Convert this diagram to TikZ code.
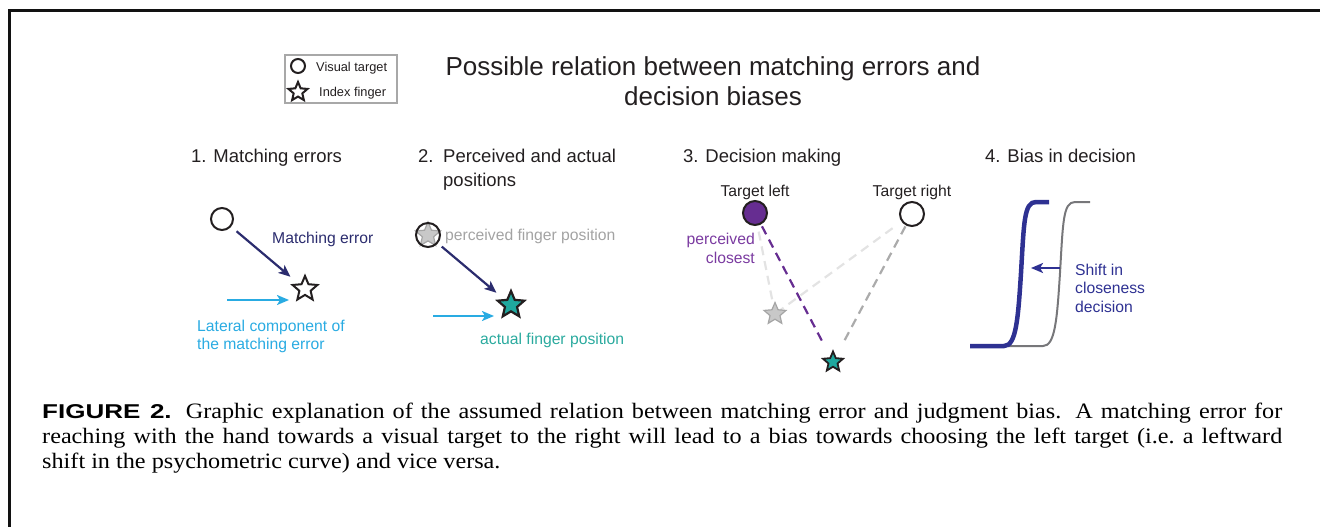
\documentclass[tikz,border=0pt]{standalone}
\usepackage{fontspec}
\setmainfont{Liberation Serif}
\newfontfamily\arialf{Liberation Sans}
\newfontfamily\capfont[FakeStretch=1.1]{Liberation Serif}
\newfontfamily\capbf[FakeStretch=1.3]{Liberation Sans}
\usetikzlibrary{shapes.geometric,arrows.meta}
\definecolor{navy}{HTML}{2B2C6E}
\definecolor{cyanl}{HTML}{29ABE2}
\definecolor{teal2}{HTML}{1FA89E}
\definecolor{tealtxt}{HTML}{2AAA9E}
\definecolor{purp}{HTML}{662D91}
\definecolor{purptxt}{HTML}{7A3AA0}
\definecolor{gtxt}{HTML}{A3A3A3}
\definecolor{lgray}{HTML}{E3E3E3}
\definecolor{mgray}{HTML}{ABABAB}
\definecolor{sgray}{HTML}{C8C8C8}
\definecolor{sgrayd}{HTML}{A5A5A5}
\definecolor{bblue}{HTML}{2E3192}
\definecolor{cgray}{HTML}{77777A}
\definecolor{txt}{HTML}{231F20}
\definecolor{legb}{HTML}{A8A8A8}
\pgfdeclarelayer{bg}
\pgfsetlayers{bg,main}
\begin{document}
\begin{tikzpicture}[x=1pt,y=-1pt,
  tgt/.style={circle, draw=txt, line width=2pt, minimum size=#1, inner sep=0pt},
  tgt/.default=22pt,
  fing/.style={star, star points=5, star point ratio=2.2, draw=txt, line width=2pt, inner sep=0pt, minimum size=#1},
  fing/.default=26pt,
  lbl/.style={font=\arialf\fontsize{15.7}{18.5}\selectfont, inner sep=0pt},
  head/.style={font=\arialf\fontsize{18.5}{25}\selectfont, text=txt, inner sep=0pt, anchor=base west},
  ttl/.style={font=\arialf\fontsize{26}{30}\selectfont, text=txt, inner sep=0pt, anchor=base},
  leg/.style={font=\arialf\fontsize{12.8}{14}\selectfont, text=txt, inner sep=0pt, anchor=base west},
  arr/.style={line width=2.2pt, -{Stealth[length=12pt, width=10pt, inset=3pt]}},
  dl/.style={line width=2.2pt, dash pattern=on 9pt off 6pt},
  captxt/.style={font=\capfont\fontsize{22}{25}\selectfont, inner sep=0pt, anchor=base west}
]
\useasboundingbox (0,0) rectangle (1320,527);
% frame
\draw[line width=3pt, black!93] (1320,10.5) -- (9.5,10.5) -- (9.5,527);

% legend
\node[draw=legb, line width=2pt, minimum width=112pt, minimum height=48pt, inner sep=0pt] (legbox) at (341,79) {};
\node[tgt=14pt, line width=2pt] (legc) at (298,66) {};
\node[fing=20pt, line width=2pt] (legs) at (298,92) {};
\node[leg] (legt1) at (316,71) {Visual target};
\node[leg] (legt2) at (319,96.5) {Index finger};

% title
\node[ttl] (title1) at (713,76) {Possible relation between matching errors and};
\node[ttl] (title2) at (713,106) {decision biases};

% headings
\node[head] (h1) at (191,162) {1. Matching errors};
\node[head] (h2) at (418,162) {2.};
\node[head] (h2a) at (443,162) {Perceived and actual};
\node[head] (h2b) at (443,186) {positions};
\node[head] (h3) at (683,162) {3. Decision making};
\node[head] (h4) at (985,162) {4. Bias in decision};

% panel 1
\node[tgt] (c1) at (222,219) {};
\node[fing] (s1) at (305,289) {};
\draw[arr, navy] (c1.center) -- (s1.center) [shorten <=19pt, shorten >=19pt];
\node[lbl, text=navy, anchor=base west] (me) at (272,243) {Matching error};
\coordinate (l1a) at (227,300);
\coordinate (l1b) at (289,300);
\draw[arr, cyanl] (l1a) -- (l1b);
\node[lbl, text=cyanl, anchor=base west] (lc1) at (197,331) {Lateral component of};
\node[lbl, text=cyanl, anchor=base west] (lc2) at (197,349.5) {the matching error};

% panel 2
\node[fing=26pt, fill=sgray, draw=sgrayd, line width=1.2pt] (gs2) at (428,235) {};
\node[tgt=24pt] (pc2) at (428,235) {};
\node[fing=28pt, fill=teal2, line width=2.2pt] (ts2) at (511,305) {};
\draw[arr, navy] (pc2.center) -- (ts2.center) [shorten <=18pt, shorten >=19pt];
\node[lbl, text=gtxt, anchor=base west] (pf) at (445,240) {perceived finger position};
\coordinate (l2a) at (433,316);
\coordinate (l2b) at (494,316);
\draw[arr, cyanl] (l2a) -- (l2b);
\node[lbl, text=tealtxt, anchor=base west] (af) at (480,344) {actual finger position};

% panel 3
\node[tgt=24pt, fill=purp] (tl) at (755,213) {};
\node[tgt=24pt, fill=white] (tr) at (912,214) {};
\node[fing=23pt, fill=sgray, draw=sgrayd, line width=1.2pt] (gs3) at (775,314) {};
\node[fing=21pt, fill=teal2, line width=1.8pt] (ts3) at (833,362) {};
\node[lbl, text=txt, anchor=base] (tlt) at (755,196) {Target left};
\node[lbl, text=txt, anchor=base] (trt) at (912,196) {Target right};
\node[lbl, text=purptxt, anchor=base east] (pc) at (755,244) {perceived};
\node[lbl, text=purptxt, anchor=base east] (cl) at (755,263) {closest};
\begin{pgfonlayer}{bg}
\draw[dl, lgray] (tl.center) -- (gs3.center) [shorten <=19pt, shorten >=11pt];
\draw[dl, lgray] (tr.center) -- (gs3.center) [shorten <=24pt, shorten >=7pt];
\draw[dl, mgray] (tr.center) -- (ts3.center) [shorten <=14pt, shorten >=21pt];
\draw[dl, purp] (tl.center) -- (ts3.center) [shorten <=15pt, shorten >=21pt];
\end{pgfonlayer}

% panel 4
\draw[cgray, line width=2pt] (1008,346) -- (1043,346) .. controls (1055,346) and (1057,320) .. (1060,273) .. controls (1063,222) and (1063,202) .. (1075,202) -- (1090,202);
\draw[bblue, line width=4.5pt] (970,346) -- (1004,346) .. controls (1016,346) and (1018,320) .. (1021,273) .. controls (1024,222) and (1024,202) .. (1036,202) -- (1049,202);
\coordinate (sha) at (1060,268);
\coordinate (shb) at (1031,268);
\draw[arr, bblue, line width=2.5pt] (sha) -- (shb);
\node[lbl, text=bblue, anchor=base west] (sh1) at (1075,275) {Shift in};
\node[lbl, text=bblue, anchor=base west] (sh2) at (1075,293.5) {closeness};
\node[lbl, text=bblue, anchor=base west] (sh3) at (1075,312) {decision};

% caption
\node[captxt] (cap1) at (42,418) {\makebox[1240pt][s]{{\capbf\bfseries\fontsize{20}{25}\selectfont FIGURE 2.} Graphic explanation of the assumed relation between matching error and judgment bias. A matching error for}};
\node[captxt] (cap2) at (42,443) {\makebox[1240pt][s]{reaching with the hand towards a visual target to the right will lead to a bias towards choosing the left target (i.e.\ a leftward}};
\node[captxt] (cap3) at (42,468) {shift in the psychometric curve) and vice versa.};
\end{tikzpicture}
\end{document}
